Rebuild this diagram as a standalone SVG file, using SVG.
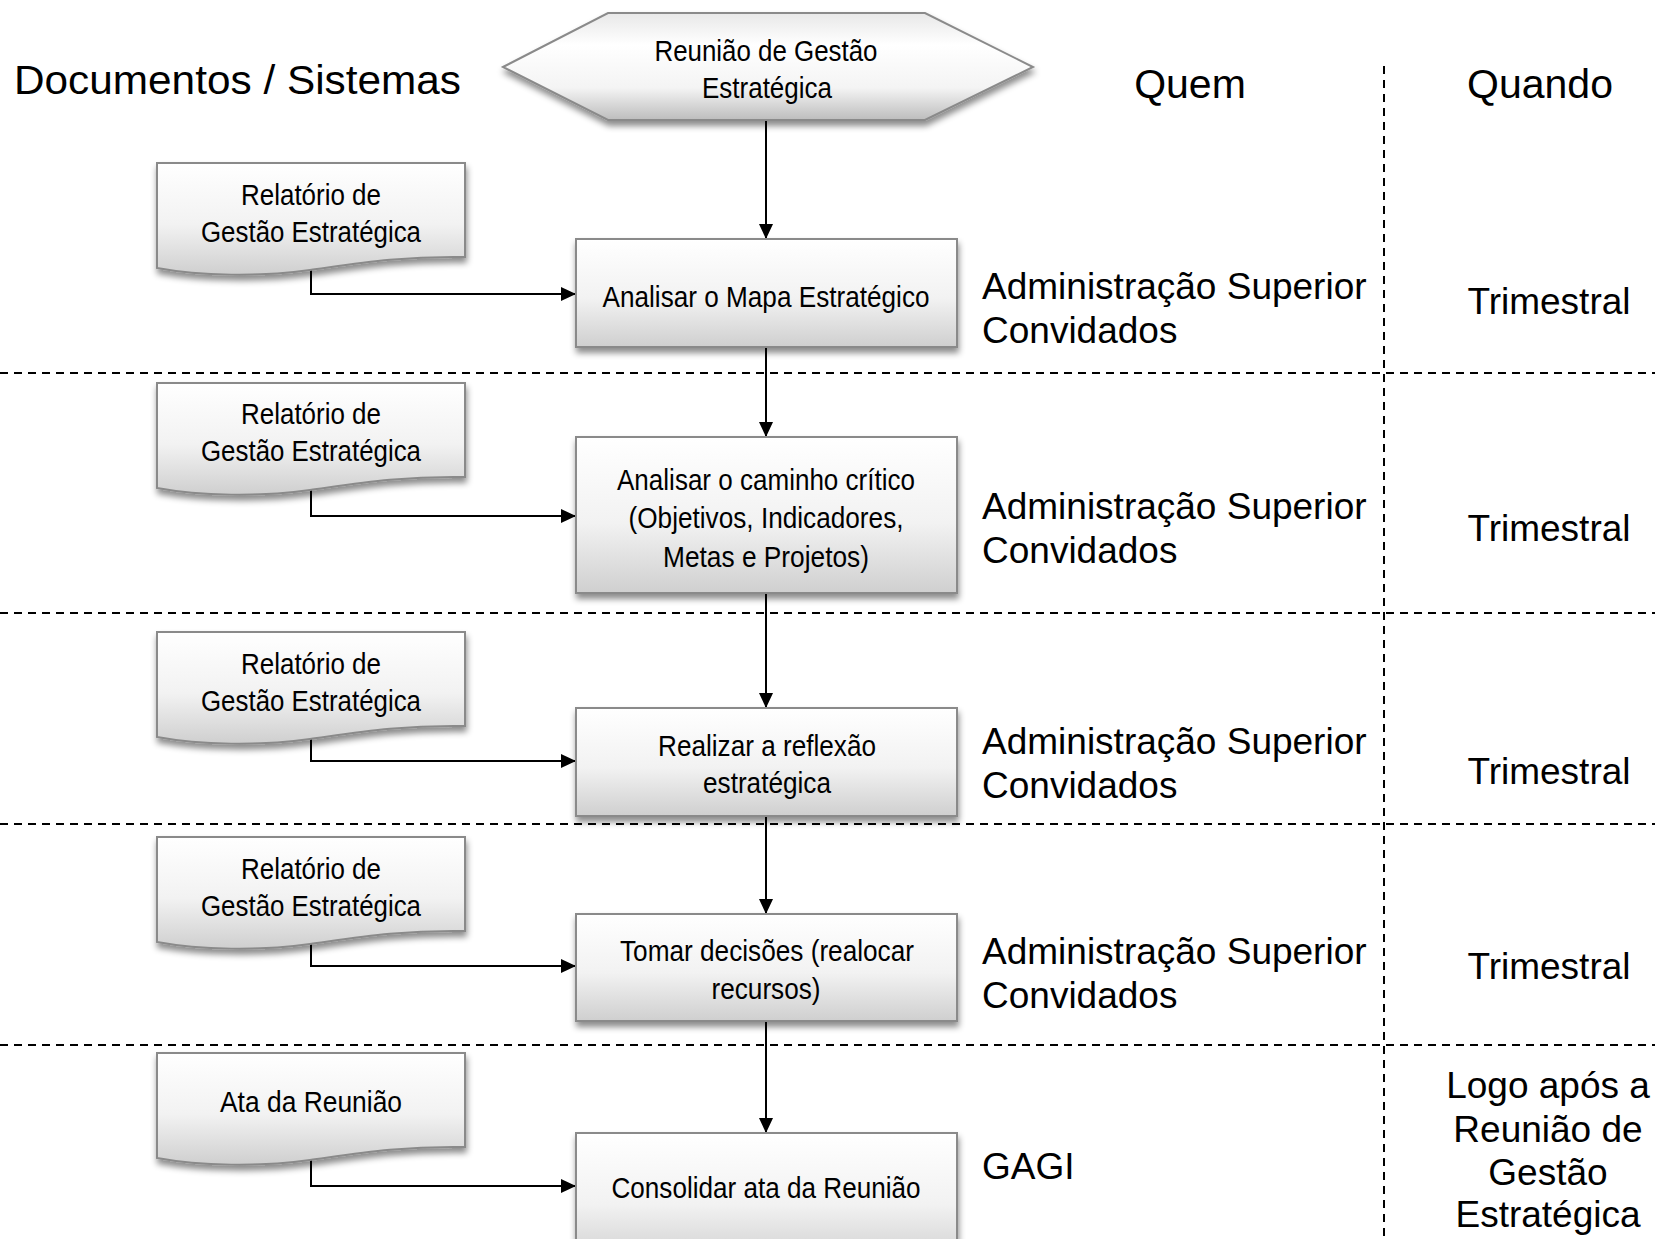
<svg xmlns="http://www.w3.org/2000/svg" width="1655" height="1239" viewBox="0 0 1655 1239">
<style>
.hdr{font-family:"Liberation Sans",Arial,sans-serif;font-size:41px;fill:#000}
.who{font-family:"Liberation Sans",Arial,sans-serif;font-size:37px;fill:#000}
.nt{font-family:"Liberation Sans Narrow","Liberation Sans",Arial,sans-serif;font-size:29px;fill:#000;text-anchor:middle}
.box{fill:url(#gBox);stroke:#8a8a8a;stroke-width:2;filter:url(#sh)}
.dash{stroke:#000;stroke-width:2;stroke-dasharray:8 6;fill:none}
.con{stroke:#000;stroke-width:2;fill:none}
</style>
<defs>
<linearGradient id="gBox" x1="0" y1="0" x2="0" y2="1">
<stop offset="0" stop-color="#ffffff"/>
<stop offset="0.55" stop-color="#f2f2f2"/>
<stop offset="1" stop-color="#cfcfcf"/>
</linearGradient>
<linearGradient id="gHex" x1="0" y1="0" x2="0" y2="1">
<stop offset="0" stop-color="#e8e8e8"/>
<stop offset="0.3" stop-color="#ffffff"/>
<stop offset="0.7" stop-color="#f4f4f4"/>
<stop offset="1" stop-color="#bdbdbd"/>
</linearGradient>
<filter id="sh" x="-10%" y="-10%" width="125%" height="140%">
<feDropShadow dx="1" dy="5" stdDeviation="3" flood-color="#000" flood-opacity="0.45"/>
</filter>
<marker id="ah" markerUnits="userSpaceOnUse" markerWidth="15" markerHeight="14" refX="15" refY="7" orient="auto">
<path d="M0,0 L15,7 L0,14 z" fill="#000"/>
</marker>
</defs>

<g id="lanes">
<line class="dash" x1="0" y1="373" x2="1655" y2="373"/>
<line class="dash" x1="0" y1="613" x2="1655" y2="613"/>
<line class="dash" x1="0" y1="824" x2="1655" y2="824"/>
<line class="dash" x1="0" y1="1045" x2="1655" y2="1045"/>
<line class="dash" x1="1384" y1="66" x2="1384" y2="1239"/>
</g>

<g id="headers">
<text class="hdr" x="14" y="94" font-size="42" textLength="447" lengthAdjust="spacingAndGlyphs">Documentos / Sistemas</text>
<text class="hdr" x="1190" y="98" text-anchor="middle">Quem</text>
<text class="hdr" x="1540" y="98" text-anchor="middle">Quando</text>
</g>

<g id="connectors">
<line class="con" x1="766" y1="120" x2="766" y2="239" marker-end="url(#ah)"/>
<line class="con" x1="766" y1="347" x2="766" y2="437" marker-end="url(#ah)"/>
<line class="con" x1="766" y1="593" x2="766" y2="708" marker-end="url(#ah)"/>
<line class="con" x1="766" y1="816" x2="766" y2="914" marker-end="url(#ah)"/>
<line class="con" x1="766" y1="1021" x2="766" y2="1133" marker-end="url(#ah)"/>
<polyline class="con" points="311,269 311,294 576,294" marker-end="url(#ah)"/>
<polyline class="con" points="311,489 311,516 576,516" marker-end="url(#ah)"/>
<polyline class="con" points="311,738 311,761 576,761" marker-end="url(#ah)"/>
<polyline class="con" points="311,943 311,966 576,966" marker-end="url(#ah)"/>
<polyline class="con" points="311,1159 311,1186 576,1186" marker-end="url(#ah)"/>
</g>

<g id="start">
<polygon points="503,67 608,13 925,13 1033,67 925,120 608,120" fill="url(#gHex)" stroke="#8a8a8a" stroke-width="2" filter="url(#sh)"/>
<text class="nt" x="766" y="61" textLength="223" lengthAdjust="spacingAndGlyphs">Reunião de Gestão</text>
<text class="nt" x="767" y="98" textLength="130" lengthAdjust="spacingAndGlyphs">Estratégica</text>
</g>

<g id="doc1">
<path class="box" d="M157,163 H465 V257 C400,256 360,263 310,270 C260,277 200,276 157,268 Z"/>
<text class="nt" x="311" y="205" textLength="140" lengthAdjust="spacingAndGlyphs">Relatório de</text>
<text class="nt" x="311" y="242" textLength="220" lengthAdjust="spacingAndGlyphs">Gestão Estratégica</text>
</g>
<g id="doc2">
<path class="box" d="M157,383 H465 V477 C400,476 360,483 310,490 C260,497 200,496 157,488 Z"/>
<text class="nt" x="311" y="424" textLength="140" lengthAdjust="spacingAndGlyphs">Relatório de</text>
<text class="nt" x="311" y="461" textLength="220" lengthAdjust="spacingAndGlyphs">Gestão Estratégica</text>
</g>
<g id="doc3">
<path class="box" d="M157,632 H465 V726 C400,725 360,732 310,739 C260,746 200,745 157,737 Z"/>
<text class="nt" x="311" y="674" textLength="140" lengthAdjust="spacingAndGlyphs">Relatório de</text>
<text class="nt" x="311" y="711" textLength="220" lengthAdjust="spacingAndGlyphs">Gestão Estratégica</text>
</g>
<g id="doc4">
<path class="box" d="M157,837 H465 V931 C400,930 360,937 310,944 C260,951 200,950 157,942 Z"/>
<text class="nt" x="311" y="879" textLength="140" lengthAdjust="spacingAndGlyphs">Relatório de</text>
<text class="nt" x="311" y="916" textLength="220" lengthAdjust="spacingAndGlyphs">Gestão Estratégica</text>
</g>
<g id="doc5">
<path class="box" d="M157,1053 H465 V1147 C400,1146 360,1153 310,1160 C260,1167 200,1166 157,1158 Z"/>
<text class="nt" x="311" y="1112" textLength="182" lengthAdjust="spacingAndGlyphs">Ata da Reunião</text>
</g>

<g id="step1">
<rect class="box" x="576" y="239" width="381" height="108"/>
<text class="nt" x="766" y="307" textLength="327" lengthAdjust="spacingAndGlyphs">Analisar o Mapa Estratégico</text>
</g>
<g id="step2">
<rect class="box" x="576" y="437" width="381" height="156"/>
<text class="nt" x="766" y="490" textLength="298" lengthAdjust="spacingAndGlyphs">Analisar o caminho crítico</text>
<text class="nt" x="766" y="528" textLength="275" lengthAdjust="spacingAndGlyphs">(Objetivos, Indicadores,</text>
<text class="nt" x="766" y="567" textLength="206" lengthAdjust="spacingAndGlyphs">Metas e Projetos)</text>
</g>
<g id="step3">
<rect class="box" x="576" y="708" width="381" height="108"/>
<text class="nt" x="767" y="756" textLength="218" lengthAdjust="spacingAndGlyphs">Realizar a reflexão</text>
<text class="nt" x="767" y="793" textLength="128" lengthAdjust="spacingAndGlyphs">estratégica</text>
</g>
<g id="step4">
<rect class="box" x="576" y="914" width="381" height="107"/>
<text class="nt" x="767" y="961" textLength="294" lengthAdjust="spacingAndGlyphs">Tomar decisões (realocar</text>
<text class="nt" x="766" y="999" textLength="109" lengthAdjust="spacingAndGlyphs">recursos)</text>
</g>
<g id="step5">
<rect class="box" x="576" y="1133" width="381" height="130"/>
<text class="nt" x="766" y="1198" textLength="309" lengthAdjust="spacingAndGlyphs">Consolidar ata da Reunião</text>
</g>

<g id="who">
<text class="who" x="982" y="299">Administração Superior</text>
<text class="who" x="982" y="343">Convidados</text>
<text class="who" x="982" y="519">Administração Superior</text>
<text class="who" x="982" y="563">Convidados</text>
<text class="who" x="982" y="754">Administração Superior</text>
<text class="who" x="982" y="798">Convidados</text>
<text class="who" x="982" y="964">Administração Superior</text>
<text class="who" x="982" y="1008">Convidados</text>
<text class="who" x="982" y="1179">GAGI</text>
</g>

<g id="when" text-anchor="middle">
<text class="who" x="1549" y="314">Trimestral</text>
<text class="who" x="1549" y="541">Trimestral</text>
<text class="who" x="1549" y="784">Trimestral</text>
<text class="who" x="1549" y="979">Trimestral</text>
<text class="who" x="1548" y="1098">Logo após a</text>
<text class="who" x="1548" y="1142">Reunião de</text>
<text class="who" x="1548" y="1185">Gestão</text>
<text class="who" x="1548" y="1227">Estratégica</text>
</g>
</svg>
